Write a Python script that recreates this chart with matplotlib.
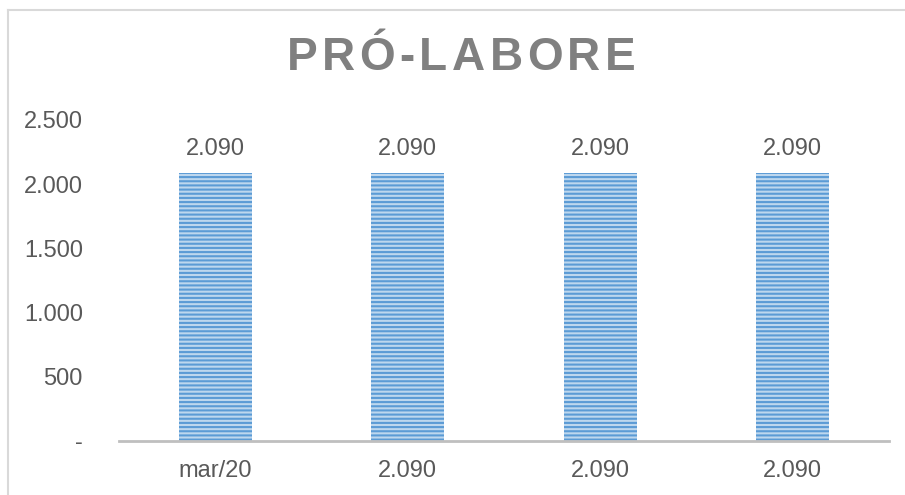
import matplotlib
matplotlib.use("Agg")
import matplotlib.pyplot as plt
from matplotlib.lines import Line2D

plt.rcParams['font.family'] = ['Liberation Sans', 'DejaVu Sans']
plt.rcParams['hatch.linewidth'] = 1.5
plt.rcParams['hatch.color'] = '#5B9BD5'

# data
categories = ["mar/20", "2.090", "2.090", "2.090"]
values = [2090, 2090, 2090, 2090]
value_labels = ["2.090", "2.090", "2.090", "2.090"]
y_ticks = [0, 500, 1000, 1500, 2000, 2500]
y_tick_labels = ["-", "500", "1.000", "1.500", "2.000", "2.500"]
title = "PRÓ-LABORE"

text_color = '#595959'

fig = plt.figure(figsize=(9.05, 4.95), dpi=100)
ax = fig.add_axes([119 / 905, 1 - 441 / 495, (889 - 119) / 905, (441 - 120) / 495])

x = range(len(categories))
ax.bar(x, values, width=0.38, color='#BDD7EE', edgecolor='#5B9BD5', linewidth=0,
       hatch='----', zorder=2)

for xi, v, lab in zip(x, values, value_labels):
    ax.annotate(lab, (xi, v), xytext=(0, 9), textcoords='offset points',
                ha='center', va='bottom', fontsize=17, color=text_color)

ax.set_xlim(-0.5, len(categories) - 0.5)
ax.set_ylim(0, 2500)
ax.set_xticks(list(x))
ax.set_xticklabels(categories, fontsize=17, color=text_color)
ax.set_yticks(y_ticks)
ax.set_yticklabels(y_tick_labels, fontsize=17, color=text_color)
ax.tick_params(axis='both', length=0)
ax.tick_params(axis='y', pad=26)
ax.tick_params(axis='x', pad=14)

for s in ['top', 'right', 'left']:
    ax.spines[s].set_visible(False)
ax.spines['bottom'].set_color('#BFBFBF')
ax.spines['bottom'].set_linewidth(2)

# outer chart frame (only top and left edges are visible)
fig.add_artist(Line2D([8 / 905, 8 / 905], [1 - 10 / 495, 0], color='#D9D9D9', lw=1.5))
fig.add_artist(Line2D([8 / 905, 1], [1 - 10 / 495, 1 - 10 / 495], color='#D9D9D9', lw=1.5))

# letter-spaced title
fig.canvas.draw()
renderer = fig.canvas.get_renderer()
spacing = 4.5
chars = []
widths = []
for ch in title:
    t = fig.text(0, 0, ch, fontsize=33, fontweight='bold', color='#808080')
    w = t.get_window_extent(renderer).width
    chars.append(t)
    widths.append(w)
total = sum(widths) + spacing * (len(title) - 1)
cx = 461
xpos = cx - total / 2
for t, w in zip(chars, widths):
    t.set_position((xpos / 905, 1 - 58 / 495))
    t.set_va('center')
    xpos += w + spacing

fig.savefig("out.png", dpi=100)
